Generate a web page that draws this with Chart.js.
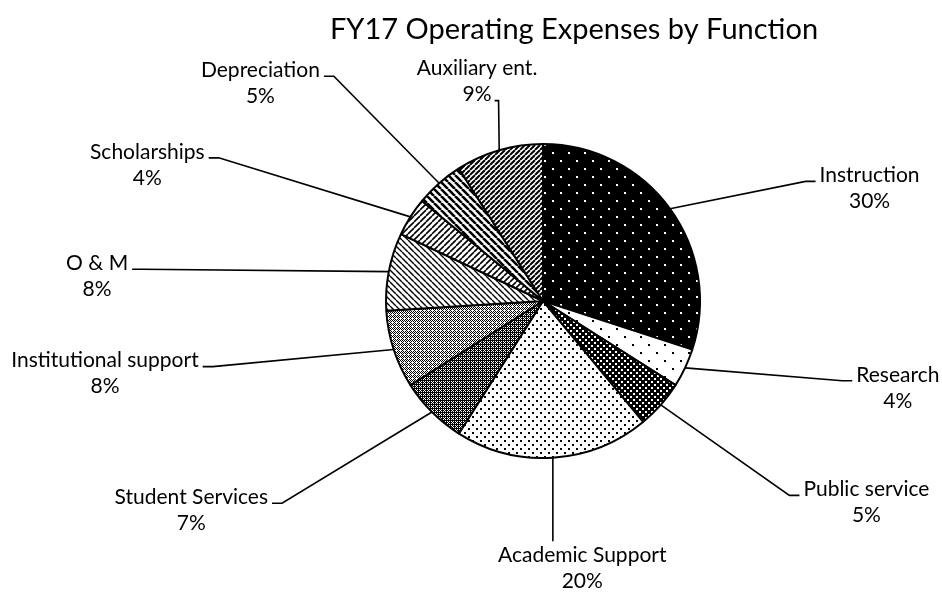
<!DOCTYPE html>
<html>
<head>
<meta charset="utf-8">
<script src="https://cdn.jsdelivr.net/npm/chart.js@4.4.0/dist/chart.umd.min.js"></script>
<style>
  html, body { margin: 0; padding: 0; background: #ffffff; }
  #chartCanvas { display: block; }
</style>
</head>
<body>
<canvas id="chartCanvas" width="942" height="592"></canvas>
<script>
// Chart data
const chartTitle = 'FY17 Operating Expenses by Function';
const categories = ['Instruction', 'Research', 'Public service', 'Academic Support', 'Student Services',
    'Institutional support', 'O & M', 'Scholarships', 'Depreciation', 'Auxiliary ent.'];
const shares = [30, 4, 5, 20, 7, 8, 8, 4, 5, 9];

// Label placement, in pie radii from the pie centre (label centre of first line)
const labelSpots = [
    { x: 2.08, y: -0.80, attach: 'left' },
    { x: 2.26, y: 0.47, attach: 'left' },
    { x: 2.06, y: 1.20, attach: 'left' },
    { x: 0.25, y: 1.62, attach: 'top' },
    { x: -2.24, y: 1.25, attach: 'right' },
    { x: -2.79, y: 0.38, attach: 'right' },
    { x: -2.84, y: -0.24, attach: 'right' },
    { x: -2.52, y: -0.95, attach: 'right' },
    { x: -1.80, y: -1.47, attach: 'right' },
    { x: -0.42, y: -1.48, attach: 'line2' }
];

const FONT = 'Lato, "Open Sans", sans-serif';

window.onload = function() {
    // small pattern tiles for the black & white fills
    function tile(size, draw) {
        const c = document.createElement('canvas');
        c.width = size;
        c.height = size;
        const g = c.getContext('2d');
        draw(g, size);
        return g.createPattern(c, 'repeat');
    }

    function dots(size, bg, fg, dot) {
        return tile(size, (g, s) => {
            g.fillStyle = bg;
            g.fillRect(0, 0, s, s);
            g.fillStyle = fg;
            g.fillRect(0, 0, dot, dot);
            g.fillRect(s / 2, s / 2, dot, dot);
        });
    }

    function pixels(size, bg, fg, test) {
        return tile(size, (g, s) => {
            g.fillStyle = bg;
            g.fillRect(0, 0, s, s);
            g.fillStyle = fg;
            for (let x = 0; x < s; x++) {
                for (let y = 0; y < s; y++) {
                    if (test(x, y)) g.fillRect(x, y, 1, 1);
                }
            }
        });
    }

    function stripes(size, width, dir) {
        return tile(size, (g, s) => {
            g.fillStyle = '#ffffff';
            g.fillRect(0, 0, s, s);
            g.strokeStyle = '#000000';
            g.lineWidth = width;
            g.beginPath();
            for (let x0 = -s; x0 <= s; x0 += s) {
                if (dir === 'down') {
                    g.moveTo(x0, 0);
                    g.lineTo(x0 + s, s);
                } else {
                    g.moveTo(x0, s);
                    g.lineTo(x0 + s, 0);
                }
            }
            g.stroke();
        });
    }

    const fills = [
        dots(16, '#000000', '#ffffff', 2),                  // Instruction
        dots(16, '#ffffff', '#000000', 2),                  // Research
        dots(6, '#000000', '#ffffff', 2),                   // Public service
        dots(8, '#ffffff', '#000000', 2),                   // Academic Support
        pixels(4, '#000000', '#ffffff', (x, y) => (x % 2 === 1 && y % 2 === 1) || (x === 0 && y === 2)),
        pixels(4, '#ffffff', '#000000', (x, y) => (x + y) % 4 === 0 || (x - y + 4) % 4 === 0 || (x === 2 && y === 0)),
        stripes(6, 1.4, 'down'),                            // O & M
        stripes(6, 1.6, 'up'),                              // Scholarships
        stripes(7, 2.6, 'down'),                            // Depreciation
        stripes(5, 2.0, 'up')                               // Auxiliary ent.
    ];

    // leader lines, labels and title
    const labelPlugin = {
        id: 'pieLabels',
        afterDraw(chart) {
            const ctx = chart.ctx;
            const arcs = chart.getDatasetMeta(0).data;
            const total = shares.reduce((a, b) => a + b, 0);
            ctx.save();

            ctx.fillStyle = '#000000';
            ctx.textAlign = 'center';
            ctx.textBaseline = 'middle';
            ctx.font = '29px ' + FONT;
            ctx.fillText(chartTitle, 574, 30);

            ctx.font = '21px ' + FONT;
            const lineGap = 26;
            arcs.forEach((arc, i) => {
                const spot = labelSpots[i];
                const r = arc.outerRadius;
                const mid = (arc.startAngle + arc.endAngle) / 2;
                const ax = arc.x + Math.cos(mid) * r;
                const ay = arc.y + Math.sin(mid) * r;
                const cx = arc.x + spot.x * r;
                const cy = arc.y + spot.y * r;
                const line1 = categories[i];
                const line2 = Math.round(shares[i] / total * 100) + '%';
                const w1 = ctx.measureText(line1).width;
                const w2 = ctx.measureText(line2).width;

                let pts;
                if (spot.attach === 'left') {
                    const ex = cx - w1 / 2 - 4, ey = cy + 6;
                    pts = [[ax, ay], [ex - 10, ey], [ex, ey]];
                } else if (spot.attach === 'right') {
                    const ex = cx + w1 / 2 + 4, ey = cy + 6;
                    pts = [[ax, ay], [ex + 10, ey], [ex, ey]];
                } else if (spot.attach === 'top') {
                    pts = [[ax, ay], [ax, cy - 14]];
                } else {
                    const ex = cx + w2 / 2 + 3, ey = cy + lineGap + 6;
                    pts = [[ax, ay], [ex + 4, ey], [ex, ey]];
                }
                ctx.strokeStyle = '#000000';
                ctx.lineWidth = 1.6;
                ctx.beginPath();
                ctx.moveTo(pts[0][0], pts[0][1]);
                for (let k = 1; k < pts.length; k++) ctx.lineTo(pts[k][0], pts[k][1]);
                ctx.stroke();

                ctx.fillStyle = '#000000';
                ctx.fillText(line1, cx, cy);
                ctx.fillText(line2, cx, cy + lineGap);
            });
            ctx.restore();
        }
    };

    const ctx = document.getElementById('chartCanvas').getContext('2d');
    new Chart(ctx, {
        type: 'pie',
        data: {
            labels: categories,
            datasets: [{
                data: shares,
                backgroundColor: fills,
                borderColor: '#000000',
                borderWidth: 2
            }]
        },
        options: {
            responsive: false,
            animation: false,
            layout: {
                padding: { left: 300, right: 156, top: 143, bottom: 133 }
            },
            plugins: {
                legend: { display: false },
                tooltip: { enabled: false },
                title: { display: false }
            }
        },
        plugins: [labelPlugin]
    });
};
</script>
</body>
</html>
